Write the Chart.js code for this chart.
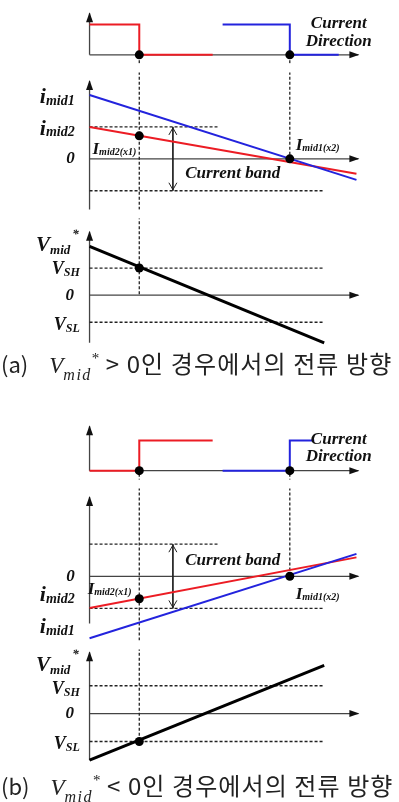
<!DOCTYPE html>
<html>
<head>
<meta charset="utf-8">
<script src="https://cdn.jsdelivr.net/npm/chart.js@4/dist/chart.umd.min.js"></script>
<style>
body { margin: 0; background: #fff; }
#wrap { position: relative; width: 399px; height: 802px; overflow: hidden; }
canvas { position: absolute; left: 0; }
.cap { position: absolute; left: 1px; white-space: nowrap; font-family: "Noto Sans CJK KR"; font-size: 22px; color: #222; line-height: 26px; }
.cap .ko { font-size: 24px; letter-spacing: 1.1px; }
.cap i { font-family: "Liberation Serif"; font-size: 23px; margin-left: 21px; }
.cap .sb { font-family: "Liberation Serif"; font-style: italic; font-size: 16px; position: relative; top: 7px; letter-spacing: 1.5px; }
.cap .sp { font-family: "Liberation Serif"; font-size: 15px; position: relative; top: -10px; }
</style>
</head>
<body>
<div id="wrap">
  <canvas id="a1" width="399" height="68" style="top:0px"></canvas>
  <canvas id="a2" width="399" height="146" style="top:68px"></canvas>
  <canvas id="a3" width="399" height="138" style="top:214px"></canvas>
  <div class="cap" style="top:350px">(a)<i>V</i><span class="sb">mid</span><span class="sp">*</span><span class="ko"> &gt; 0인 경우에서의 전류 방향</span></div>
  <canvas id="b1" width="399" height="79" style="top:405px"></canvas>
  <canvas id="b2" width="399" height="161" style="top:484px"></canvas>
  <canvas id="b3" width="399" height="127" style="top:645px"></canvas>
  <div class="cap" style="top:772px">(b)<i>V</i><span class="sb">mid</span><span class="sp">*</span><span class="ko"> &lt; 0인 경우에서의 전류 방향</span></div>
</div>
<script>
// time axis (a.u.), switching instants x1, x2
const X1 = 18.5, X2 = 74.5;
const X_LINE = 99.3, X_REF = 87.3, X_BAND = 47.6, X_AXIS = 100, X_ARROW = 31;
const OFF = 9;   // runs past the panel edge

// (a) V_mid* > 0
const aDirRed  = [[0, 1], [X1, 1], [X1, 0], [45.8, 0]];
const aDirBlue = [[49.5, 1], [X2, 1], [X2, 0], [92.7, 0]];
const aImid1   = [[0, 2.0], [X_LINE, -0.66]];
const aImid2   = [[0, 1.0], [X_LINE, -0.47]];
const aDotsI   = [[X1, 0.72], [X2, 0]];
const aBand    = [1, -1];
const aVmid    = [[0, 1.8], [X_REF, -1.76]];
const aVs      = [1, -1];            // V_SH, V_SL
const aDotV    = [[X1, 1]];

// (b) V_mid* < 0
const bDirRed  = [[0, 0], [X1, 0], [X1, 1], [45.8, 1]];
const bDirBlue = [[49.5, 0], [X2, 0], [X2, 1], [83.6, 1]];
const bImid1   = [[0, -1.93], [X_LINE, 0.70]];
const bImid2   = [[0, -0.99], [X_LINE, 0.59]];
const bDotsI   = [[X1, -0.70], [X2, 0]];
const bBand    = [1, -1];
const bVmid    = [[0, -1.67], [X_REF, 1.73]];
const bVs      = [1, -1];
const bDotV    = [[X1, -1]];

const RED = '#ec1c24', BLUE = '#2323dd', AXIS = '#444';
const X_MIN = -31.64, X_MAX = 113.45;

const serif = s => 'italic bold ' + s + 'px "Liberation Serif"';
const pts = a => a.map(p => ({x: p[0], y: p[1]}));

function line(a, color, width, dash) {
    return {data: pts(a), showLine: true, borderColor: color, borderWidth: width,
            borderDash: dash || [], pointRadius: 0, fill: false, tension: 0};
}
function dots(a) {
    return {data: pts(a), showLine: false, pointRadius: 4.5, pointBackgroundColor: '#000',
            pointBorderColor: '#000', pointBorderWidth: 0};
}
function dashed(a) { return line(a, '#222', 1.3, [3, 2]); }

function sym(main, sub, sup, big, small, dy) {
    var p = [[main, big, 0, 0], [sub, small, dy, 0]];
    if (sup) p.push([sup, small, -11, 2]);
    return p;
}

function drawLabel(chart, lb) {
    var ctx = chart.ctx;
    var px = chart.scales.x.getPixelForValue(lb.x);
    var py = chart.scales.y.getPixelForValue(lb.y);
    ctx.save();
    ctx.fillStyle = '#111';
    ctx.textBaseline = 'middle';
    ctx.textAlign = 'left';
    var w = 0;
    lb.parts.forEach(p => { ctx.font = serif(p[1]); w += ctx.measureText(p[0]).width + p[3]; });
    if (lb.align === 'right') px -= w;
    else if (lb.align === 'center') px -= w / 2;
    lb.parts.forEach(p => {
        ctx.font = serif(p[1]);
        px += p[3];
        ctx.fillText(p[0], px, py + p[2]);
        px += ctx.measureText(p[0]).width;
    });
    ctx.restore();
}

var annotations = {
    id: 'annotations',
    afterDatasetsDraw(chart, args, opts) {
        var ctx = chart.ctx, sx = chart.scales.x, sy = chart.scales.y;
        ctx.save();
        ctx.fillStyle = '#111';
        // axis arrowheads
        var ox = sx.getPixelForValue(0), oy = sy.getPixelForValue(0);
        var tx = sx.getPixelForValue(X_AXIS), ty = sy.getPixelForValue(opts.tip);
        ctx.beginPath();
        ctx.moveTo(tx + 1, oy); ctx.lineTo(tx - 9, oy - 3.5); ctx.lineTo(tx - 9, oy + 3.5); ctx.fill();
        ctx.beginPath();
        ctx.moveTo(ox, ty - 1); ctx.lineTo(ox - 3.5, ty + 9); ctx.lineTo(ox + 3.5, ty + 9); ctx.fill();
        // current band arrow heads
        if (opts.band) {
            var ax = sx.getPixelForValue(X_ARROW);
            var y1 = sy.getPixelForValue(opts.band[0]), y2 = sy.getPixelForValue(opts.band[1]);
            ctx.strokeStyle = '#222';
            ctx.lineWidth = 1;
            ctx.beginPath();
            ctx.moveTo(ax - 4, y1 + 8); ctx.lineTo(ax, y1 + 1); ctx.lineTo(ax + 4, y1 + 8);
            ctx.moveTo(ax - 4, y2 - 8); ctx.lineTo(ax, y2 - 1); ctx.lineTo(ax + 4, y2 - 8);
            ctx.stroke();
        }
        ctx.restore();
        (opts.labels || []).forEach(lb => drawLabel(chart, lb));
    }
};

// zeroPx: page row of the value 0, unit: pixels per unit
function panel(id, zeroPx, unit, datasets, opts) {
    var canvas = document.getElementById(id);
    var z = zeroPx - canvas.offsetTop, h = canvas.height;
    return new Chart(canvas, {
        type: 'scatter',
        data: {datasets: datasets},
        options: {
            responsive: false,
            animation: false,
            layout: {padding: 0},
            scales: {
                x: {type: 'linear', min: X_MIN, max: X_MAX, display: false},
                y: {type: 'linear', min: (z - h) / unit, max: z / unit, display: false}
            },
            plugins: {legend: {display: false}, tooltip: {enabled: false}, annotations: opts}
        },
        plugins: [annotations]
    });
}

function dirPanel(id, zeroPx, unit, red, blue, tip, labels) {
    panel(id, zeroPx, unit, [
        dots([[X1, 0], [X2, 0]]),
        line(red, RED, 2),
        line(blue, BLUE, 2),
        dashed([[X1, -OFF], [X1, 0]]),
        dashed([[X2, -OFF], [X2, 0]]),
        line([[0, 0], [X_AXIS, 0]], AXIS, 1.3),
        line([[0, 0], [0, tip]], AXIS, 1.3)
    ], {tip: tip, labels: labels});
}

function curPanel(id, zeroPx, unit, i1, i2, dotsI, band, axisLo, tip, labels) {
    panel(id, zeroPx, unit, [
        dots(dotsI),
        line(i1, BLUE, 2),
        line(i2, RED, 2),
        dashed([[0, band[0]], [X_BAND, band[0]]]),
        dashed([[0, band[1]], [X_REF, band[1]]]),
        dashed([[X1, OFF], [X1, -OFF]]),
        dashed([[X2, OFF], [X2, 0]]),
        line([[X_ARROW, band[0]], [X_ARROW, band[1]]], '#222', 1),
        line([[0, 0], [X_AXIS, 0]], AXIS, 1.3),
        line([[0, axisLo], [0, tip]], AXIS, 1.3)
    ], {tip: tip, band: band, labels: labels});
}

function volPanel(id, zeroPx, unit, v, vs, dotV, x1Lo, axisLo, tip, labels) {
    panel(id, zeroPx, unit, [
        dots(dotV),
        line(v, '#000', 3),
        dashed([[0, vs[0]], [X_REF, vs[0]]]),
        dashed([[0, vs[1]], [X_REF, vs[1]]]),
        dashed([[X1, OFF], [X1, x1Lo]]),
        line([[0, 0], [X_AXIS, 0]], AXIS, 1.3),
        line([[0, axisLo], [0, tip]], AXIS, 1.3)
    ], {tip: tip, labels: labels});
}

var dirLabels = [
    {x: 92.7, y: 1.03, align: 'center', parts: [['Current', 17, 0, 0]]},
    {x: 92.7, y: 0.45, align: 'center', parts: [['Direction', 17, 0, 0]]}
];

dirPanel('a1', 58, 35, aDirRed, aDirBlue, 1.37, dirLabels);
curPanel('a2', 160, 34, aImid1, aImid2, aDotsI, aBand, -OFF, 2.44, [
    {x: -5.5, y: 1.94, align: 'right', parts: sym('i', 'mid1', null, 22, 14, 4)},
    {x: -5.5, y: 0.94, align: 'right', parts: sym('i', 'mid2', null, 22, 14, 4)},
    {x: -5.5, y: 0, align: 'right', parts: [['0', 17, 0, 0]]},
    {x: 1.1, y: 0.29, align: 'left', parts: sym('I', 'mid2(x1)', null, 17, 10, 3)},
    {x: 76.7, y: 0.41, align: 'left', parts: sym('I', 'mid1(x2)', null, 17, 10, 3)},
    {x: 35.6, y: -0.47, align: 'left', parts: [['Current band', 17, 0, 0]]}
]);
volPanel('a3', 296, 29, aVmid, aVs, aDotV, 0, -1.76, 2.34, [
    {x: -4, y: 1.83, align: 'right', parts: sym('V', 'mid', '*', 21, 13, 5)},
    {x: -3.6, y: 0.95, align: 'right', parts: sym('V', 'SH', null, 18, 12, 4)},
    {x: -5.8, y: 0, align: 'right', parts: [['0', 17, 0, 0]]},
    {x: -3.6, y: -1.1, align: 'right', parts: sym('V', 'SL', null, 18, 12, 4)}
]);

dirPanel('b1', 474, 34, bDirRed, bDirBlue, 1.47, dirLabels);
curPanel('b2', 577, 34, bImid1, bImid2, bDotsI, bBand, -1.47, 2.47, [
    {x: 35.6, y: 0.5, align: 'left', parts: [['Current band', 17, 0, 0]]},
    {x: -5.5, y: 0, align: 'right', parts: [['0', 17, 0, 0]]},
    {x: -5.5, y: -0.6, align: 'right', parts: sym('i', 'mid2', null, 22, 14, 4)},
    {x: -5.5, y: -1.6, align: 'right', parts: sym('i', 'mid1', null, 22, 14, 4)},
    {x: -0.7, y: -0.41, align: 'left', parts: sym('I', 'mid2(x1)', null, 17, 10, 3)},
    {x: 76.7, y: -0.56, align: 'left', parts: sym('I', 'mid1(x2)', null, 17, 10, 3)}
]);
volPanel('b3', 714, 30, bVmid, bVs, bDotV, -1, -1.67, 2.2, [
    {x: -4, y: 1.73, align: 'right', parts: sym('V', 'mid', '*', 21, 13, 5)},
    {x: -3.6, y: 0.87, align: 'right', parts: sym('V', 'SH', null, 18, 12, 4)},
    {x: -5.8, y: 0, align: 'right', parts: [['0', 17, 0, 0]]},
    {x: -3.6, y: -1.1, align: 'right', parts: sym('V', 'SL', null, 18, 12, 4)}
]);
</script>
</body>
</html>
